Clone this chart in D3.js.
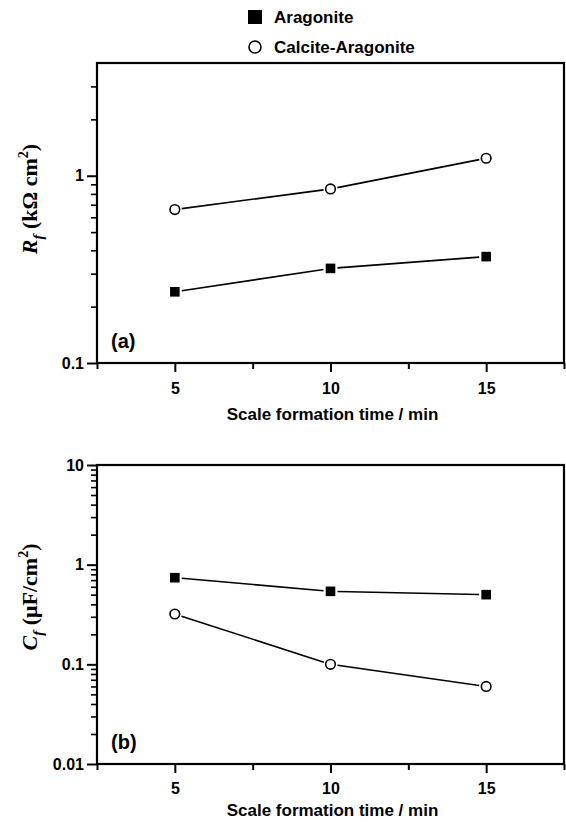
<!DOCTYPE html>
<html>
<head>
<meta charset="utf-8">
<script src="https://cdn.jsdelivr.net/npm/d3@7"></script>
<style>
  html, body { margin: 0; padding: 0; background: #fff; }
  svg { display: block; }
  .tick text, .lbl { font-family: "Liberation Sans", Arial, sans-serif; font-weight: bold; fill: #000; }
  .ytitle { font-family: "Liberation Serif", "Times New Roman", serif; font-weight: bold; fill: #000; }
</style>
</head>
<body>
<svg id="chart" width="566" height="822"></svg>
<script>
// ---- data ----
const times = [5, 10, 15];
const seriesNames = ["Aragonite", "Calcite-Aragonite"];
const rfAragonite = [0.24, 0.32, 0.37];
const rfCalciteAragonite = [0.66, 0.85, 1.24];
const cfAragonite = [0.74, 0.54, 0.50];
const cfCalciteAragonite = [0.32, 0.10, 0.06];
const xTickLabels = [5, 10, 15];
const xMinorTicks = [2.5, 7.5, 12.5, 17.5];
const yTicksA = [0.1, 1];
const yTicksB = [0.01, 0.1, 1, 10];

const svg = d3.select("#chart");

const left = 97, right = 564;
const x = d3.scaleLinear().domain([2.5, 17.5]).range([left, right]);

function minorLogTicks(lo, hi) {
  const out = [];
  for (let d = Math.floor(Math.log10(lo)); d <= Math.ceil(Math.log10(hi)); d++) {
    for (let k = 2; k <= 9; k++) {
      const v = k * Math.pow(10, d);
      if (v > lo && v < hi) out.push(v);
    }
  }
  return out;
}

function panel(cfg) {
  const g = svg.append("g");
  const y = d3.scaleLog().domain(cfg.yDomain).range([cfg.bottom, cfg.top]);

  // frame
  g.append("rect")
    .attr("x", left).attr("y", cfg.top)
    .attr("width", right - left).attr("height", cfg.bottom - cfg.top)
    .attr("fill", "none").attr("stroke", "#000").attr("stroke-width", 2.2);

  // x axis major
  const xa = g.append("g").attr("transform", `translate(0,${cfg.bottom})`)
    .call(d3.axisBottom(x).tickValues(xTickLabels).tickSize(9).tickPadding(cfg.tickPad).tickFormat(d3.format("d")));
  xa.select(".domain").remove();
  xa.selectAll(".tick line").attr("stroke-width", 2);
  xa.selectAll(".tick text").style("font-size", "16px");
  // x axis minor
  const xm = g.append("g").attr("transform", `translate(0,${cfg.bottom})`)
    .call(d3.axisBottom(x).tickValues(xMinorTicks).tickSize(6).tickFormat(""));
  xm.select(".domain").remove();
  xm.selectAll(".tick line").attr("stroke-width", 2);

  // y axis major
  const ya = g.append("g").attr("transform", `translate(${left},0)`)
    .call(d3.axisLeft(y).tickValues(cfg.yTicks).tickSize(10).tickPadding(3).tickFormat(d => String(d)));
  ya.select(".domain").remove();
  ya.selectAll(".tick line").attr("stroke-width", 2);
  ya.selectAll(".tick text").style("font-size", "16px");
  // y axis minor
  const ym = g.append("g").attr("transform", `translate(${left},0)`)
    .call(d3.axisLeft(y).tickValues(minorLogTicks(cfg.yDomain[0], cfg.yDomain[1])).tickSize(6).tickFormat(""));
  ym.select(".domain").remove();
  ym.selectAll(".tick line").attr("stroke-width", 1.6);

  // x title
  g.append("text").attr("class", "lbl")
    .attr("x", (left + right) / 2 + 2).attr("y", cfg.bottom + cfg.titleOff)
    .attr("text-anchor", "middle").style("font-size", "17px")
    .text("Scale formation time / min");

  // panel letter
  g.append("text").attr("class", "lbl")
    .attr("x", 111).attr("y", cfg.bottom - 15)
    .style("font-size", "20px").text(cfg.letter);

  // y title
  const yt = g.append("text").attr("class", "ytitle")
    .attr("transform", `translate(37,${cfg.titleY}) rotate(-90)`)
    .attr("text-anchor", "middle").style("font-size", "22px");
  yt.append("tspan").style("font-style", "italic").text(cfg.sym);
  yt.append("tspan").style("font-style", "italic").style("font-size", "15px").attr("dy", 6).text("f");
  yt.append("tspan").attr("dy", -6).text(cfg.unitA);
  yt.append("tspan").style("font-size", "14px").attr("dy", -9).text("2");
  yt.append("tspan").attr("dy", 9).text(")");

  // series
  const series = [
    { vals: cfg.aragonite, type: "square" },
    { vals: cfg.calcite, type: "circle" }
  ];
  const gap = 7;
  series.forEach(s => {
    const pts = times.map((t, i) => [x(t), y(s.vals[i])]);
    for (let i = 0; i < pts.length - 1; i++) {
      const [x1, y1] = pts[i], [x2, y2] = pts[i + 1];
      const len = Math.hypot(x2 - x1, y2 - y1);
      const ux = (x2 - x1) / len, uy = (y2 - y1) / len;
      g.append("line")
        .attr("x1", x1 + ux * gap).attr("y1", y1 + uy * gap)
        .attr("x2", x2 - ux * gap).attr("y2", y2 - uy * gap)
        .attr("stroke", "#000").attr("stroke-width", 1.6);
    }
    if (s.type === "square") {
      g.selectAll(null).data(pts).enter().append("rect")
        .attr("x", d => d[0] - 4.8).attr("y", d => d[1] - 4.8)
        .attr("width", 9.6).attr("height", 9.6).attr("fill", "#000");
    } else {
      g.selectAll(null).data(pts).enter().append("circle")
        .attr("cx", d => d[0]).attr("cy", d => d[1]).attr("r", 4.8)
        .attr("fill", "#fff").attr("stroke", "#000").attr("stroke-width", 1.6);
    }
  });
}

panel({ top: 63, bottom: 363, yDomain: [0.1, 4], yTicks: yTicksA, letter: "(a)", tickPad: 11, titleOff: 57,
        titleY: 199, sym: "R", unitA: " (k\u03A9 cm", aragonite: rfAragonite, calcite: rfCalciteAragonite });
panel({ top: 465, bottom: 764, yDomain: [0.01, 10], yTicks: yTicksB, letter: "(b)", tickPad: 10, titleOff: 52,
        titleY: 597, sym: "C", unitA: " (\u03BCF/cm", aragonite: cfAragonite, calcite: cfCalciteAragonite });

// legend
const leg = svg.append("g");
leg.append("rect").attr("x", 248).attr("y", 10).attr("width", 14).attr("height", 14).attr("fill", "#000");
leg.append("text").attr("class", "lbl").attr("x", 274).attr("y", 23).style("font-size", "17px").text(seriesNames[0]);
leg.append("circle").attr("cx", 255).attr("cy", 47).attr("r", 6).attr("fill", "#fff")
  .attr("stroke", "#000").attr("stroke-width", 1.6);
leg.append("text").attr("class", "lbl").attr("x", 274).attr("y", 53).style("font-size", "17px").text(seriesNames[1]);
</script>
</body>
</html>
